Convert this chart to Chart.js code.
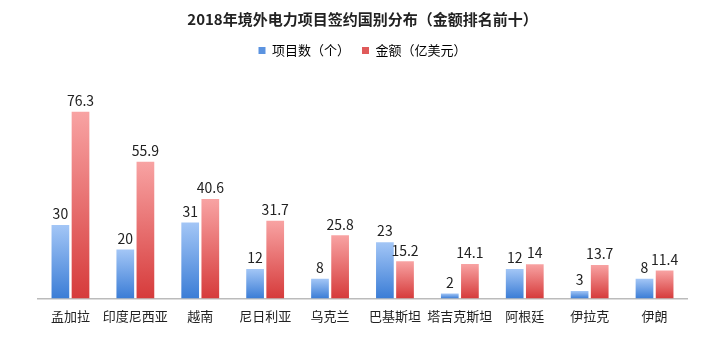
<!DOCTYPE html>
<html lang="zh">
<head>
    <meta charset="UTF-8">
    <title>2018年境外电力项目签约国别分布</title>
    <style>
        body {
            margin: 0;
            padding: 0;
            background-color: #fff;
        }
        .wrap {
            width: 719px;
            height: 353px;
        }
    </style>
</head>
<body>
    <div class="wrap">
        <canvas id="chart" width="719" height="353"></canvas>
    </div>

    <script src="https://cdn.jsdelivr.net/npm/chart.js"></script>
    <script>
        const countries = ['孟加拉', '印度尼西亚', '越南', '尼日利亚', '乌克兰', '巴基斯坦', '塔吉克斯坦', '阿根廷', '伊拉克', '伊朗'];
        const projectCounts = [30, 20, 31, 12, 8, 23, 2, 12, 3, 8];
        const amounts = [76.3, 55.9, 40.6, 31.7, 25.8, 15.2, 14.1, 14, 13.7, 11.4];

        const FONT = '"Noto Sans CJK SC", "Noto Sans", sans-serif';

        // each bar gets its own light-to-dark gradient
        function barGradient(light, dark) {
            return function(ctx) {
                const chart = ctx.chart;
                if (!chart.chartArea || !chart.scales.y) return dark;
                const v = ctx.raw;
                const top = chart.scales.y.getPixelForValue(v);
                const bottom = chart.scales.y.getPixelForValue(0);
                if (!isFinite(top) || top === bottom) return dark;
                const g = chart.ctx.createLinearGradient(0, top, 0, bottom);
                g.addColorStop(0, light);
                g.addColorStop(1, dark);
                return g;
            };
        }

        // value labels above bars
        const valueLabels = {
            id: 'valueLabels',
            afterDatasetsDraw(chart) {
                const c = chart.ctx;
                c.save();
                c.font = '14px ' + FONT;
                c.fillStyle = '#222';
                c.textAlign = 'center';
                c.textBaseline = 'bottom';
                chart.data.datasets.forEach((ds, i) => {
                    chart.getDatasetMeta(i).data.forEach((bar, j) => {
                        c.fillText(String(ds.data[j]), bar.x, bar.y - 4);
                    });
                });
                c.restore();
            }
        };

        new Chart(document.getElementById('chart'), {
            type: 'bar',
            data: {
                labels: countries,
                datasets: [{
                    label: '项目数（个）',
                    data: projectCounts,
                    backgroundColor: barGradient('#a3c6f6', '#3b7dd6'),
                    borderWidth: 0
                }, {
                    label: '金额（亿美元）',
                    data: amounts,
                    backgroundColor: barGradient('#f8a3a3', '#d63b3b'),
                    borderWidth: 0
                }]
            },
            options: {
                responsive: false,
                animation: false,
                layout: {
                    padding: { left: 38, right: 32, top: 0, bottom: 19 }
                },
                datasets: {
                    bar: {
                        categoryPercentage: 0.62,
                        barPercentage: 0.88
                    }
                },
                plugins: {
                    title: {
                        display: true,
                        text: '2018年境外电力项目签约国别分布（金额排名前十）',
                        color: '#222',
                        font: { family: FONT, size: 15, weight: 'bold' },
                        padding: { top: 10, bottom: 4 }
                    },
                    legend: {
                        display: true,
                        labels: {
                            boxWidth: 7,
                            boxHeight: 7,
                            color: '#333',
                            font: { family: FONT, size: 13 },
                            padding: 12,
                            generateLabels(chart) {
                                const cols = ['#5b93e0', '#e05a5a'];
                                return chart.data.datasets.map((ds, i) => ({
                                    text: ds.label,
                                    fillStyle: cols[i],
                                    strokeStyle: cols[i],
                                    lineWidth: 0,
                                    datasetIndex: i
                                }));
                            }
                        }
                    },
                    tooltip: { enabled: false }
                },
                scales: {
                    x: {
                        grid: { display: false, drawTicks: false },
                        border: { display: true, color: '#bbb', width: 1.5 },
                        ticks: {
                            color: '#222',
                            padding: 10,
                            maxRotation: 0,
                            minRotation: 0,
                            autoSkip: false,
                            font: { family: FONT, size: 13 }
                        }
                    },
                    y: {
                        display: false,
                        min: 0,
                        max: 94.6
                    }
                }
            },
            plugins: [valueLabels]
        });
    </script>
</body>
</html>
